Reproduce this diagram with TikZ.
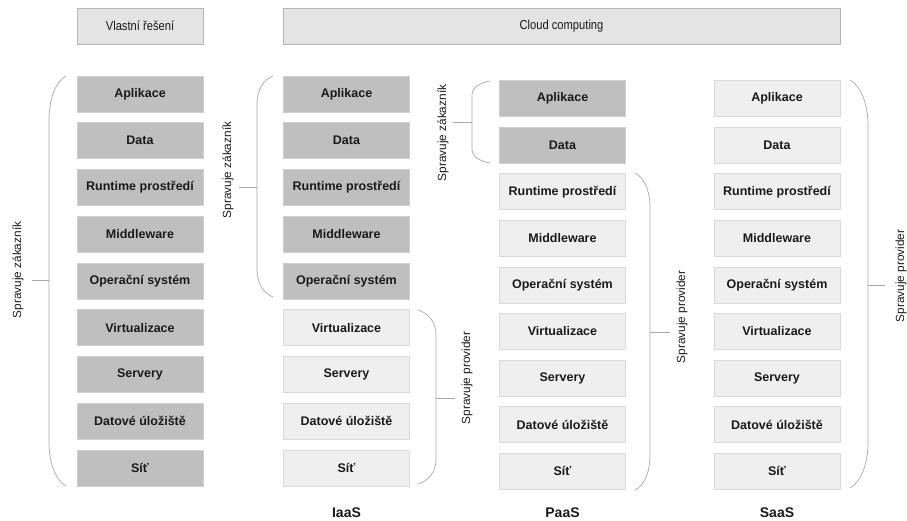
\documentclass[tikz,border=0pt]{standalone}
\usepackage{fontspec}
\setmainfont{Liberation Sans}
\newfontfamily\narrowfont[FakeStretch=0.86]{Liberation Sans}
\definecolor{darkbox}{HTML}{BFBFBF}
\definecolor{darkline}{HTML}{CFCFCF}
\definecolor{lightbox}{HTML}{EFEFEF}
\definecolor{lightline}{HTML}{D9D9D9}
\definecolor{hdrfill}{HTML}{E4E4E4}
\definecolor{hdrline}{HTML}{B5B5B5}
\definecolor{brline}{HTML}{A8A8A8}
\definecolor{txt}{HTML}{1A1A1A}
\newcommand{\mybrace}[7]{%
  \draw[br] (#1,#3) .. controls ({#2+0.45*(#1-#2)},{#3+0.12*#5}) and (#2,{#3+0.45*#5}) .. (#2,{#3+#5})
    -- (#2,{#4-#5}) .. controls (#2,{#4-0.45*#5}) and ({#2+0.45*(#1-#2)},{#4-0.12*#5}) .. (#1,#4);
  \draw[br] (#2,#6) -- (#7,#6);}
\begin{document}
\begin{tikzpicture}[x=1pt,y=-1pt,
  box/.style={rectangle, minimum width=126pt, minimum height=36pt, inner sep=0pt,
    font=\fontsize{12.5}{14}\selectfont\bfseries, text=txt, line width=0.6pt},
  dbox/.style={box, fill=darkbox, draw=darkline},
  lbox/.style={box, fill=lightbox, draw=lightline},
  hdr/.style={rectangle, minimum height=36pt, inner sep=0pt, fill=hdrfill, draw=hdrline,
    line width=0.7pt, font=\narrowfont\fontsize{13}{15}\selectfont, text=txt},
  br/.style={draw=brline, line width=0.7pt},
  lab/.style={rotate=90, font=\fontsize{11.8}{14}\selectfont, text=txt, inner sep=0pt},
  ttl/.style={font=\fontsize{14}{16}\selectfont\bfseries, text=txt}]
\useasboundingbox (0,0) rectangle (907,521);

\node[hdr, minimum width=126pt] (own) at (140,26) {Vlastní řešení};
\node[hdr, minimum width=557pt] (cloud) at (561.5,26) {Cloud computing};

\foreach \t [count=\i] in {Aplikace, Data, Runtime prostředí, Middleware, Operační systém, Virtualizace, Servery, Datové úložiště, Síť}{
  \node[dbox] (a\i) at (140,{94+(\i-1)*46.75}) {\t};
  \ifnum\i<6
    \node[dbox] (b\i) at (346.5,{94+(\i-1)*46.75}) {\t};
  \else
    \node[lbox] (b\i) at (346.5,{94+(\i-1)*46.75}) {\t};
  \fi
  \ifnum\i<3
    \node[dbox] (c\i) at (562.5,{98.5+(\i-1)*46.6}) {\t};
  \else
    \node[lbox] (c\i) at (562.5,{98.5+(\i-1)*46.6}) {\t};
  \fi
  \node[lbox] (d\i) at (777,{98.5+(\i-1)*46.6}) {\t};
}

\mybrace{66}{49}{76}{486}{45}{280}{32}
\mybrace{273}{257}{76}{297}{28}{187}{239}
\mybrace{490}{472}{81}{163}{14}{122}{453}
\mybrace{418}{436}{310}{484}{25}{398}{455}
\mybrace{635}{650}{173}{490}{35}{332}{670}
\mybrace{850}{868}{80}{488}{47}{285}{885}

\node[lab] (l1) at (18,270) {Spravuje zákazník};
\node[lab] (l2) at (228,170) {Spravuje zákazník};
\node[lab] (l3) at (443,133) {Spravuje zákazník};
\node[lab] (l4) at (467,378) {Spravuje provider};
\node[lab] (l5) at (682,317) {Spravuje provider};
\node[lab] (l6) at (901,276) {Spravuje provider};

\node[ttl] (iaas) at (346.5,513) {IaaS};
\node[ttl] (paas) at (562.5,513) {PaaS};
\node[ttl] (saas) at (777,513) {SaaS};
\end{tikzpicture}
\end{document}
